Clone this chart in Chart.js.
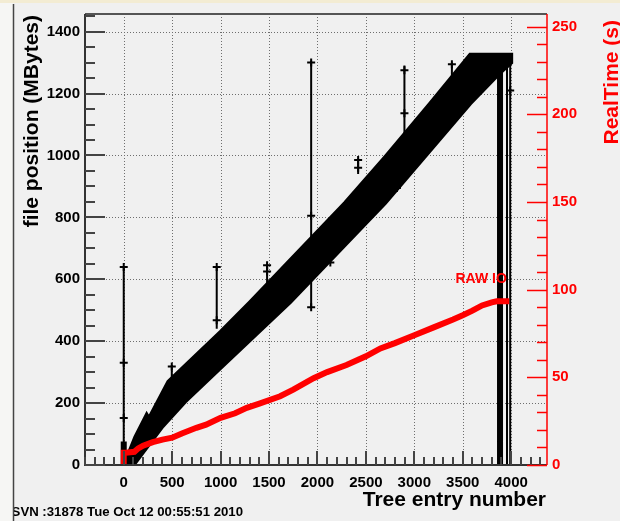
<!DOCTYPE html>
<html>
<head>
<meta charset="utf-8">
<script src="https://cdn.jsdelivr.net/npm/chart.js@4.4.0/dist/chart.umd.min.js"></script>
<style>
  html, body { margin: 0; padding: 0; background: #f0f0f0; }
  canvas { display: block; }
</style>
</head>
<body>
<canvas id="c" width="620" height="521"></canvas>
<script>
// tick labels
const X_TICKS = [0, 500, 1000, 1500, 2000, 2500, 3000, 3500, 4000];
const Y_TICKS = [0, 200, 400, 600, 800, 1000, 1200, 1400];
const Y2_TICKS = [0, 50, 100, 150, 200, 250];

// outline of the black band of points (entry, MBytes)
const BAND_X = [0, 30, 120, 237, 260, 461, 1000, 1305, 1700, 2286, 2700, 3164, 3577, 4000,
                4000, 3870, 3577, 2699, 1718, 1000, 633, 400, 100];
const BAND_Y = [0, 20, 90, 162, 150, 269, 430, 526, 655, 847, 995, 1168, 1325, 1325,
                1300, 1263, 1168, 847, 526, 314, 205, 125, 0];

// thick vertical bars
const BAR_X = [0, 3885];
const BAR_LO = [0, 0];
const BAR_HI = [76, 1300];

// error bars sticking out of the band
const ERR_X = [0, 496, 960, 1480, 1935, 2420, 2898, 3388, 3957, 3990];
const ERR_LO = [0, 237, 440, 520, 510, 940, 1062, 1232, 0, 0];
const ERR_HI = [640, 323, 640, 650, 1306, 990, 1291, 1300, 1320, 1320];

// single point markers
const MARK_X = [0, 0, 0, 496, 960, 960, 1480, 1480, 1935, 1935, 1935, 2133, 2420, 2420, 2820, 2898, 2898, 3388, 3990];
const MARK_Y = [640, 330, 152, 318, 640, 468, 645, 625, 1300, 805, 510, 654, 985, 960, 895, 1275, 1136, 1295, 1210];

// RealTime (s) curve
const TIME_X = [0, 0, 20, 110, 150, 200, 300, 400, 500, 600, 750, 850, 1000, 1150, 1270, 1400, 1615, 1750,
                1960, 2100, 2300, 2500, 2650, 2800, 3000, 3200, 3400, 3500, 3600, 3700, 3800, 3850, 3980];
const TIME_Y = [0, 7, 7, 7.5, 9.5, 11, 13, 14.5, 15.6, 18, 21.2, 23, 26.9, 29.5, 32.6, 35, 39.2, 43,
                49.5, 53, 57, 62, 66.5, 69.5, 74, 78.5, 83, 85.4, 88, 91, 92.8, 93.4, 93.4];

const FONT = '"Liberation Sans", Arial, Helvetica, sans-serif';
Chart.defaults.font.family = FONT;

const toPts = (xs, ys) => xs.map((x, i) => ({ x, y: ys[i] }));
const segs = (xs, lo, hi) => xs.flatMap((x, i) => [{ x, y: lo[i] }, { x, y: hi[i] }, { x, y: null }]);

const rootFrame = {
  id: 'rootFrame',
  beforeDraw(chart) {
    const ctx = chart.ctx;
    ctx.save();
    ctx.fillStyle = '#f0f0f0';
    ctx.fillRect(0, 0, chart.width, chart.height);
    ctx.restore();
  },
  beforeDatasetsDraw(chart) {
    const { ctx, chartArea: a, scales: { x, y } } = chart;
    ctx.save();
    ctx.strokeStyle = '#6e6e6e';
    ctx.lineWidth = 1;
    ctx.setLineDash([1, 2]);
    ctx.beginPath();
    X_TICKS.forEach(v => {
      const px = Math.round(x.getPixelForValue(v)) + 0.5;
      ctx.moveTo(px, a.top); ctx.lineTo(px, a.bottom);
    });
    Y_TICKS.forEach(v => {
      if (v === 0) return;
      const py = Math.round(y.getPixelForValue(v)) + 0.5;
      ctx.moveTo(a.left, py); ctx.lineTo(a.right, py);
    });
    ctx.stroke();
    ctx.restore();
  },
  afterDatasetsDraw(chart) {
    const { ctx, chartArea: a, scales: { x, y, y2 } } = chart;
    ctx.save();
    // frame + axes
    ctx.strokeStyle = '#555';
    ctx.lineWidth = 2;
    ctx.beginPath();
    ctx.moveTo(a.left, a.top); ctx.lineTo(a.right, a.top);
    ctx.stroke();
    ctx.strokeStyle = '#333';
    ctx.beginPath();
    ctx.moveTo(a.left, a.top); ctx.lineTo(a.left, a.bottom); ctx.lineTo(a.right, a.bottom);
    ctx.stroke();

    // left ticks
    ctx.lineWidth = 2;
    ctx.strokeStyle = '#444';
    ctx.beginPath();
    for (let v = 0; v <= 1450; v += 50) {
      const py = Math.round(y.getPixelForValue(v));
      const len = v % 200 === 0 ? 20 : 10;
      ctx.moveTo(a.left, py); ctx.lineTo(a.left + len, py);
    }
    ctx.stroke();

    // bottom ticks
    ctx.beginPath();
    for (let v = -400; v <= 4300; v += 100) {
      const px = Math.round(x.getPixelForValue(v));
      const len = v % 500 === 0 ? 14 : 8;
      ctx.moveTo(px, a.bottom); ctx.lineTo(px, a.bottom - len);
    }
    ctx.stroke();

    // right red axis
    ctx.strokeStyle = '#ff0000';
    ctx.lineWidth = 1.5;
    ctx.beginPath();
    ctx.moveTo(a.right, a.top); ctx.lineTo(a.right, a.bottom);
    for (let v = 0; v <= 250; v += 10) {
      const py = Math.round(y2.getPixelForValue(v)) + 0.5;
      const len = v % 50 === 0 ? 20 : 10;
      ctx.moveTo(a.right, py); ctx.lineTo(a.right - len, py);
    }
    ctx.stroke();
    ctx.restore();
  },
  afterDraw(chart) {
    const { ctx, scales: { x, y2 } } = chart;
    ctx.save();
    // axis titles
    ctx.font = 'bold 21px ' + FONT;
    ctx.textBaseline = 'alphabetic';
    ctx.fillStyle = '#000';
    ctx.save();
    ctx.translate(38, 15);
    ctx.rotate(-Math.PI / 2);
    ctx.textAlign = 'right';
    ctx.fillText('file position (MBytes)', 0, 0);
    ctx.restore();

    ctx.save();
    ctx.fillStyle = '#ff0000';
    ctx.translate(618, 20);
    ctx.rotate(-Math.PI / 2);
    ctx.textAlign = 'right';
    ctx.fillText('RealTime (s)', 0, 0);
    ctx.restore();

    ctx.textAlign = 'right';
    ctx.fillText('Tree entry number', 546, 506);

    // RAW IO label
    ctx.font = 'bold 14px ' + FONT;
    ctx.fillStyle = '#ff0000';
    ctx.textAlign = 'center';
    ctx.textBaseline = 'middle';
    ctx.fillText('RAW IO', x.getPixelForValue(3690), y2.getPixelForValue(106));

    // date stamp
    ctx.font = 'bold 13.2px ' + FONT;
    ctx.fillStyle = '#000';
    ctx.textAlign = 'right';
    ctx.textBaseline = 'alphabetic';
    ctx.fillText('SVN :31878 Tue Oct 12 00:55:51 2010', 243, 516);

    // outer page frame
    ctx.fillStyle = '#f6f6f4';
    ctx.fillRect(0, 0, 13, chart.height);
    ctx.fillStyle = '#f3ecd3';
    ctx.fillRect(0, 0, chart.width, 3);
    ctx.strokeStyle = '#444';
    ctx.lineWidth = 1.5;
    ctx.beginPath();
    ctx.moveTo(13.5, 4); ctx.lineTo(13.5, chart.height);
    ctx.stroke();
    ctx.restore();
  }
};

const tickFont = { size: 15, weight: 'bold', family: FONT };
const plain = v => String(v);

new Chart(document.getElementById('c'), {
  type: 'line',
  data: {
    datasets: [
      {
        label: 'RealTime',
        data: toPts(TIME_X, TIME_Y),
        yAxisID: 'y2',
        borderColor: '#ff0000',
        borderWidth: 6,
        pointRadius: 0,
        tension: 0,
        order: 0
      },
      {
        label: 'markers',
        data: toPts(MARK_X, MARK_Y),
        yAxisID: 'y',
        showLine: false,
        pointStyle: 'cross',
        pointRadius: 4,
        pointBorderWidth: 2,
        pointBorderColor: '#000',
        order: 1
      },
      {
        label: 'errors',
        data: segs(ERR_X, ERR_LO, ERR_HI),
        yAxisID: 'y',
        borderColor: '#000',
        borderWidth: 2,
        pointRadius: 0,
        spanGaps: false,
        order: 2
      },
      {
        label: 'bars',
        data: segs(BAR_X, BAR_LO, BAR_HI),
        yAxisID: 'y',
        borderColor: '#000',
        borderWidth: 6,
        pointRadius: 0,
        spanGaps: false,
        order: 3
      },
      {
        label: 'file position',
        data: toPts(BAND_X, BAND_Y),
        yAxisID: 'y',
        borderColor: '#000',
        backgroundColor: '#000',
        borderWidth: 4,
        pointRadius: 0,
        tension: 0,
        fill: 'shape',
        order: 4
      }
    ]
  },
  options: {
    responsive: false,
    animation: false,
    devicePixelRatio: 1,
    layout: { padding: { top: 10, left: 0, right: 0, bottom: 0 } },
    plugins: { legend: { display: false }, tooltip: { enabled: false } },
    scales: {
      x: {
        type: 'linear',
        min: -400,
        max: 4370,
        afterBuildTicks: s => { s.ticks = X_TICKS.map(v => ({ value: v })); },
        afterFit: s => { s.height = 56; },
        grid: { display: false, drawTicks: false },
        border: { display: false },
        ticks: { font: tickFont, color: '#000', padding: 9, maxRotation: 0, autoSkip: false, callback: plain }
      },
      y: {
        type: 'linear',
        position: 'left',
        min: 0,
        max: 1457,
        afterBuildTicks: s => { s.ticks = Y_TICKS.map(v => ({ value: v })); },
        afterFit: s => { s.width = 85; },
        grid: { display: false, drawTicks: false },
        border: { display: false },
        ticks: { font: tickFont, color: '#000', padding: 5, callback: plain }
      },
      y2: {
        type: 'linear',
        position: 'right',
        min: 0,
        max: 257.2,
        afterBuildTicks: s => { s.ticks = Y2_TICKS.map(v => ({ value: v })); },
        afterFit: s => { s.width = 73; },
        grid: { display: false, drawTicks: false },
        border: { display: false },
        ticks: { font: tickFont, color: '#ff0000', padding: 5, callback: plain }
      }
    }
  },
  plugins: [rootFrame]
});
</script>
</body>
</html>
